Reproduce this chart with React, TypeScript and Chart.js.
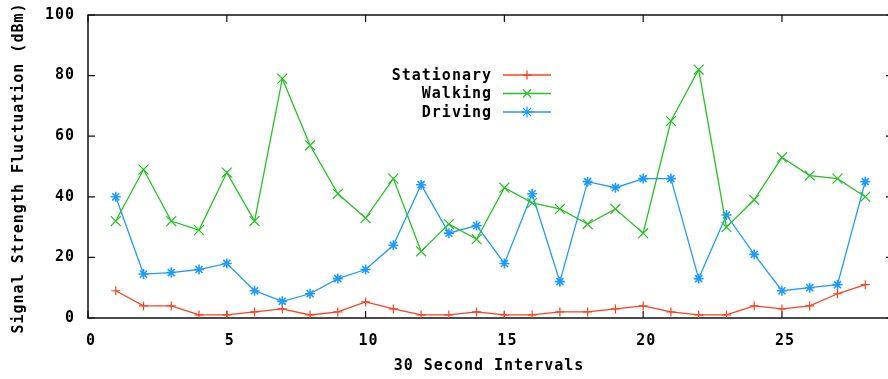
import React, { useEffect, useRef } from "react";
import { Chart, registerables } from "chart.js";

Chart.register(...registerables);

const intervals = [1, 2, 3, 4, 5, 6, 7, 8, 9, 10, 11, 12, 13, 14, 15, 16, 17, 18, 19, 20, 21, 22, 23, 24, 25, 26, 27, 28];
const stationary = [9, 4, 4, 1, 1, 2, 3, 1, 2, 5.3, 3, 1, 1, 2, 1, 1, 2, 2, 3, 4, 2, 1, 1, 4, 3, 4, 8, 11];
const walking = [32, 49, 32, 29, 48, 32, 79, 57, 41, 33, 46, 22, 31, 26, 43, 38, 36, 31, 36, 28, 65, 82, 30, 39, 53, 47, 46, 40];
const driving = [40, 14.5, 15, 16, 18, 9, 5.5, 8, 13, 16, 24, 44, 28, 30.5, 18, 41, 12, 45, 43, 46, 46, 13, 34, 21, 9, 10, 11, 45];

const seriesNames = ["Stationary", "Walking", "Driving"];
const seriesColors = ["#ff4020", "#22c322", "#1e9bff"];
const seriesMarkers = ["cross", "crossRot", "star"];

const xTitle = "30 Second Intervals";
const yTitle = "Signal Strength Fluctuation (dBm)";

const FONT = "bold 15px 'DejaVu Sans Mono'";

function drawMarker(ctx: CanvasRenderingContext2D, style: string, x: number, y: number, r: number) {
  ctx.beginPath();
  if (style === "cross" || style === "star") {
    ctx.moveTo(x - r, y);
    ctx.lineTo(x + r, y);
    ctx.moveTo(x, y - r);
    ctx.lineTo(x, y + r);
  }
  if (style === "crossRot" || style === "star") {
    const d = r * 0.75;
    ctx.moveTo(x - d, y - d);
    ctx.lineTo(x + d, y + d);
    ctx.moveTo(x - d, y + d);
    ctx.lineTo(x + d, y - d);
  }
  ctx.stroke();
}

const framePlugin = {
  id: "gnuFrame",
  beforeDraw(chart: any) {
    (chart.ctx as any).letterSpacing = "1px";
  },
  beforeDatasetsDraw(chart: any) {
    const { ctx, chartArea: a, scales } = chart;
    ctx.save();
    ctx.strokeStyle = "#111";
    ctx.lineWidth = 1.5;
    ctx.strokeRect(a.left, a.top, a.right - a.left, a.bottom - a.top);
    ctx.lineWidth = 1.2;
    const tl = 7;
    ctx.beginPath();
    scales.x.ticks.forEach((t: any) => {
      const px = scales.x.getPixelForValue(t.value);
      ctx.moveTo(px, a.bottom);
      ctx.lineTo(px, a.bottom - tl);
      ctx.moveTo(px, a.top);
      ctx.lineTo(px, a.top + tl);
    });
    scales.y.ticks.forEach((t: any) => {
      const py = scales.y.getPixelForValue(t.value);
      ctx.moveTo(a.left, py);
      ctx.lineTo(a.left + tl, py);
      ctx.moveTo(a.right, py);
      ctx.lineTo(a.right - tl, py);
    });
    ctx.stroke();
    ctx.restore();
  },
  afterDraw(chart: any) {
    const { ctx } = chart;
    ctx.save();
    (ctx as any).letterSpacing = "1px";
    ctx.font = FONT;
    ctx.fillStyle = "#000";
    ctx.textBaseline = "middle";
    ctx.textAlign = "center";
    ctx.fillText(xTitle, 489, 366);
    ctx.save();
    ctx.translate(19, 168);
    ctx.rotate(-Math.PI / 2);
    ctx.fillText(yTitle, 0, 0);
    ctx.restore();
    const rows = [75, 93.5, 112];
    seriesNames.forEach((name, i) => {
      const y = rows[i];
      ctx.fillStyle = "#000";
      ctx.textAlign = "right";
      ctx.fillText(name, 492, y + 1);
      ctx.strokeStyle = seriesColors[i];
      ctx.lineWidth = 1.3;
      ctx.beginPath();
      ctx.moveTo(503, y);
      ctx.lineTo(551, y);
      ctx.stroke();
      drawMarker(ctx, seriesMarkers[i], 527, y, i === 0 ? 4.5 : 5.5);
    });
    ctx.restore();
  },
};

export default function App() {
  const ref = useRef<HTMLCanvasElement | null>(null);
  useEffect(() => {
    document.body.style.margin = "0";
    const canvas = ref.current!;
    const makeData = (vals: number[]) => vals.map((v, i) => ({ x: intervals[i], y: v }));
    const all = [stationary, walking, driving];
    const chart = new Chart(canvas, {
      type: "line",
      data: {
        datasets: all.map((vals, i) => ({
          label: seriesNames[i],
          data: makeData(vals),
          borderColor: seriesColors[i],
          backgroundColor: seriesColors[i],
          borderWidth: 1.3,
          pointStyle: seriesMarkers[i] as any,
          pointRadius: i === 0 ? 4.5 : i === 1 ? 7 : 5,
          pointBorderWidth: i === 2 ? 1.6 : 1.2,
          pointBorderColor: seriesColors[i],
          tension: 0,
          fill: false,
        })),
      },
      options: {
        animation: false,
        responsive: false,
        maintainAspectRatio: false,
        layout: { padding: { left: 0, right: 17, top: 15, bottom: 0 } },
        plugins: { legend: { display: false }, tooltip: { enabled: false } },
        scales: {
          x: {
            type: "linear",
            min: 0,
            max: 29,
            grid: { display: false, drawTicks: false },
            border: { display: false },
            ticks: {
              stepSize: 5,
              includeBounds: false,
              padding: 14,
              labelOffset: 3,
              color: "#000",
              font: { family: "'DejaVu Sans Mono'", size: 15, weight: "bold" },
            },
            afterBuildTicks: (s: any) => {
              s.ticks = s.ticks.filter((t: any) => t.value % 5 === 0);
            },
            afterFit: (s: any) => {
              s.height = 61;
              s.paddingLeft = 0;
              s.paddingRight = 0;
              s.paddingTop = 0;
              s.paddingBottom = 0;
            },
          },
          y: {
            min: 0,
            max: 100,
            grid: { display: false, drawTicks: false },
            border: { display: false },
            ticks: {
              stepSize: 20,
              padding: 13,
              color: "#000",
              font: { family: "'DejaVu Sans Mono'", size: 15, weight: "bold" },
            },
            afterFit: (s: any) => {
              s.width = 88;
              s.paddingLeft = 0;
              s.paddingRight = 0;
              s.paddingTop = 0;
              s.paddingBottom = 0;
            },
          },
        },
      },
      plugins: [framePlugin],
    });
    return () => chart.destroy();
  }, []);
  return (
    <div style={{ position: "fixed", left: 0, top: 0, width: 888, height: 379, overflow: "hidden", background: "#fff" }}>
      <canvas ref={ref} width={910} height={379} style={{ display: "block" }} />
    </div>
  );
}
